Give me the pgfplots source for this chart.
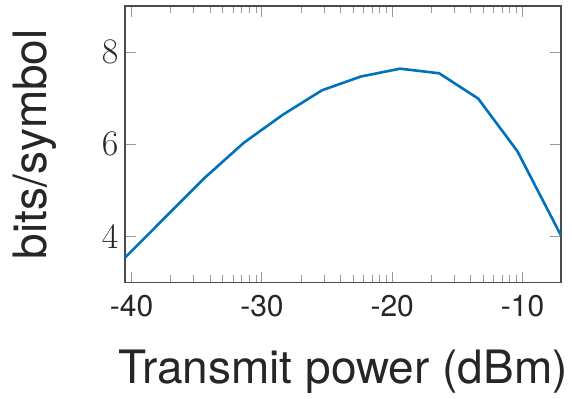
\RequirePackage{fix-cm}
\documentclass[border=0pt]{standalone}
\usepackage{fontspec}
\setmainfont{TeX Gyre Heros}
\usepackage{pgfplots}
\pgfplotsset{compat=1.18}
\definecolor{mblue}{RGB}{0,114,189}
\definecolor{txt}{RGB}{38,38,38}
\begin{document}
\begin{tikzpicture}
\begin{axis}[
  scale only axis, width=436pt, height=276.5pt,
  xmin=-40.51, xmax=-7.05, ymin=3, ymax=9,
  xtick={-40,-30,-20,-10}, xticklabels={-40,-30,-20,-10},
  minor xtick={-36.99,-35.23,-33.98,-33.01,-32.22,-31.55,-30.97,-30.46,
               -26.99,-25.23,-23.98,-23.01,-22.22,-21.55,-20.97,-20.46,
               -16.99,-15.23,-13.98,-13.01,-12.22,-11.55,-10.97,-10.46},
  ytick={4,6,8},
  axis line style={draw=black!70, line width=1.2pt},
  major tick style={draw=black!40, line width=0.9pt},
  minor tick style={draw=black!40, line width=0.9pt},
  major tick length=10.7pt, minor tick length=7.3pt,
  tick label style={text=txt},
  xticklabel style={font=\fontsize{30}{36}\selectfont, yshift=-9pt},
  yticklabel style={font=\fontsize{36}{43}\selectfont, xshift=-3pt},
  xlabel={Transmit power (dBm)}, ylabel={bits/symbol},
  label style={font=\fontsize{46}{55}\selectfont, text=txt, inner sep=0pt},
  xlabel style={at={(axis description cs:0.5,-0.3653)}, anchor=base},
  ylabel style={at={(axis description cs:-0.1789,0.5)}, anchor=base},
]
\addplot[mblue, line width=2.6pt] coordinates {
  (-40.51,3.54) (-37.4,4.42) (-34.4,5.27) (-31.4,6.03) (-28.4,6.64)
  (-25.4,7.17) (-22.4,7.47) (-19.4,7.64) (-16.4,7.54) (-13.4,6.99)
  (-10.4,5.85) (-7.05,4.02)
};
\end{axis}
\path ([shift={(-125pt,-116.5pt)}]current axis.south west) rectangle ([shift={(11pt,6pt)}]current axis.north east);
\end{tikzpicture}
\end{document}
